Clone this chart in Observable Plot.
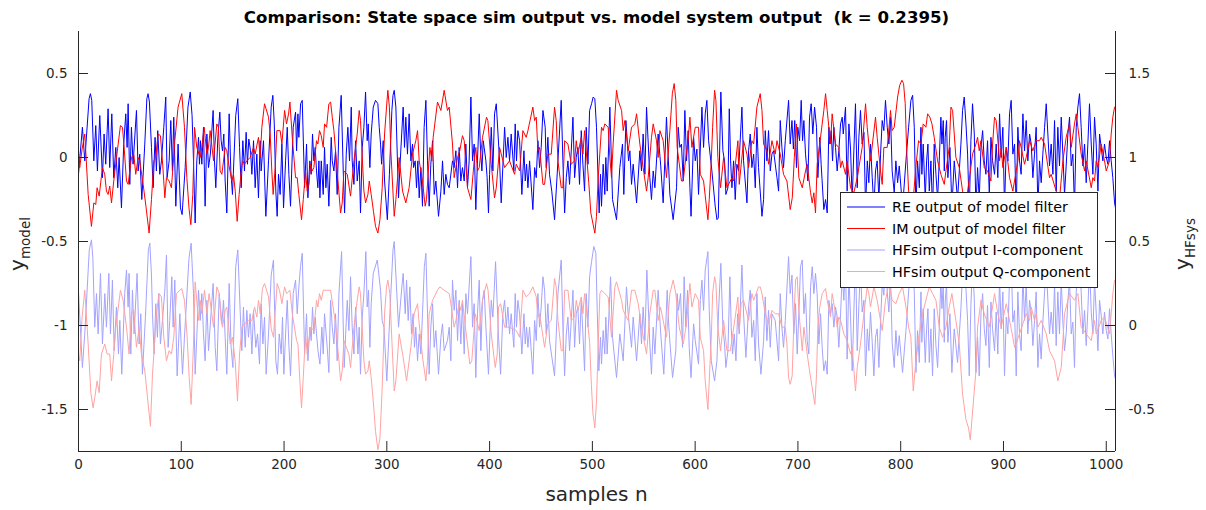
<!DOCTYPE html>
<html>
<head>
<meta charset="utf-8">
<script src="https://cdn.jsdelivr.net/npm/d3@7"></script>
<script src="https://cdn.jsdelivr.net/npm/@observablehq/plot@0.6"></script>
<style>
  html, body { margin: 0; padding: 0; background: #fff; }
  #chart { position: relative; width: 1206px; height: 510px; }
</style>
</head>
<body>
<div id="chart"></div>
<script>
// ---------- data (sample index n, value) ----------
const titleText = "Comparison: State space sim output vs. model system output  (k = 0.2395)";
const xLabel = "samples n";
const seriesNames = ["RE output of model filter", "IM output of model filter", "HFsim output I-component", "HFsim output Q-component"];
const xTicks = [0, 100, 200, 300, 400, 500, 600, 700, 800, 900, 1000];
const leftTicks = [-1.5, -1, -0.5, 0, 0.5];
const rightTicks = [-0.5, 0, 0.5, 1, 1.5];
const xDomain = [0, 1009];
const leftDomain = [-1.75, 0.75];
const rightOffset = 1; // right axis value = left axis value + 1

// RE output of model filter (left axis)
const reOutput = [[0,-0.1],[3.8,0.18],[6.1,-0.02],[10.3,0.35],[11.6,0.38],[12.9,0.34],[14.9,-0.02],[16.8,0.19],[18.4,-0.08],[20.7,0.25],[23.3,-0.12],[24.9,0.14],[26.5,-0.04],[28.8,0.29],[30.4,-0.06],[32.4,0.26],[34.3,-0.12],[36.3,0.06],[38.2,-0.18],[39.5,0],[41.8,-0.3],[44,0.08],[46,0.26],[47.3,0.06],[48.3,0.32],[49.9,-0.16],[51.5,0.18],[53.1,-0.04],[56.4,0.28],[58,-0.08],[59.6,0.02],[61.6,-0.25],[64.5,0.08],[66.5,0.35],[67.7,0.38],[69,0.33],[71,0.06],[72.6,-0.18],[74.5,0.12],[75.8,-0.08],[77.1,0.16],[79.1,-0.1],[80.7,-0.02],[83,0.18],[84.9,0.36],[86.2,-0.12],[88.2,-0.02],[89.8,0.22],[91.4,-0.08],[92.7,0.24],[94.7,-0.29],[96.9,0.08],[99.2,-0.3],[100.8,-0.34],[103.8,-0.06],[106.5,0.3],[108.7,0.39],[110.5,0.25],[111.9,-0.02],[113.5,-0.39],[115.1,-0.02],[116.8,0.12],[117.7,-0.04],[118.7,0.1],[120,-0.04],[121.6,0.18],[123.2,-0.29],[124.9,0.14],[126.5,-0.06],[128.3,0.02],[131,0.28],[132.3,-0.02],[133.6,-0.18],[135.6,0.12],[137.5,0.27],[138.8,0.1],[140.1,0.04],[141.4,0.14],[142.7,-0.14],[144.3,-0.33],[146.6,0.26],[148.2,-0.08],[149.8,-0.22],[153,0.25],[155,0.35],[156.7,0.06],[158.3,-0.18],[159.9,0.1],[161.5,-0.08],[163.1,0.15],[164.4,-0.04],[165.7,0.11],[167.4,0.04],[168.7,-0.1],[170.3,0.1],[171.9,-0.18],[173.5,0.02],[175.1,-0.24],[176.8,0.1],[177.7,-0.08],[180,0.1],[182.3,-0.35],[184.9,-0.02],[187.5,0.3],[189.1,0.37],[190.5,0.2],[192,-0.2],[193.3,-0.35],[194.6,-0.1],[196.2,-0.22],[197.9,0.08],[199.5,-0.3],[201.5,-0.02],[203.1,0.18],[204.7,-0.1],[206.3,-0.29],[208.9,0.18],[211.2,0.27],[212.2,0.04],[213.5,0.26],[214.4,0.12],[216.1,0.32],[217.7,0.34],[220,-0.18],[221.9,0.08],[223.2,-0.24],[225.1,-0.02],[226.4,-0.1],[227.7,0.14],[229,-0.02],[230.3,0.06],[231.6,-0.08],[232.9,-0.18],[233.9,-0.02],[234.9,-0.24],[236.2,-0.02],[238.1,-0.22],[239.4,0.06],[240.7,-0.18],[242,-0.04],[243.6,-0.29],[245.9,0.12],[246.9,-0.02],[248.5,-0.08],[250.1,0.04],[251.7,-0.22],[253.4,0.18],[255.6,0.37],[257.6,-0.08],[258.9,-0.33],[260.5,0.02],[262.1,0.18],[263.7,-0.02],[265.4,0.3],[266.3,-0.02],[268,-0.16],[269.6,0.1],[271.2,-0.14],[273.1,-0.02],[274.4,-0.33],[276.1,0.06],[277.7,0.18],[279.3,0.39],[280.9,0.1],[281.9,0.2],[283.5,-0.06],[284.8,0.14],[286.8,0.3],[289,0.34],[291.3,0.32],[292.6,0.18],[293.9,0.08],[294.9,-0.04],[296.5,0.1],[297.8,-0.14],[300.5,-0.37],[302.5,-0.1],[304.9,0.28],[306,0.37],[307.2,0.4],[308.8,0.3],[311.4,-0.24],[312.7,-0.06],[315.9,0.3],[317.2,0.06],[318.5,0.24],[320.1,0.02],[321.7,0.26],[323.4,-0.02],[325,0.08],[326,-0.06],[327.6,-0.02],[328.9,-0.18],[330.2,-0.02],[331.5,-0.24],[333.1,-0.06],[334.7,-0.29],[336.3,0.18],[338,0.34],[339.6,-0.02],[341.2,-0.29],[342.8,-0.04],[344.5,0.1],[346.1,-0.22],[347.7,-0.14],[350.3,-0.35],[352.6,-0.2],[354.2,-0.02],[355.8,-0.22],[357.4,-0.1],[359,-0.16],[360.7,-0.18],[363.9,-0.02],[365.5,-0.06],[367.2,0.04],[368.8,-0.18],[370.4,0.06],[372,-0.14],[373.6,-0.06],[375.3,-0.14],[376.9,0.08],[378.5,-0.18],[380.1,-0.02],[381.8,0.36],[383.4,-0.02],[385,0.08],[386.6,-0.31],[388.2,-0.02],[389.9,0.26],[391.2,0.04],[392.5,-0.08],[393.8,0.1],[396.4,-0.02],[397.6,-0.12],[398.9,-0.33],[400,-0.1],[401.6,0.18],[403.2,-0.08],[404.8,0.26],[406.5,0.32],[409.7,-0.02],[411.3,-0.27],[414.6,0.18],[416.2,0],[417.8,0.12],[419.4,-0.02],[421,0.14],[423.6,-0.08],[424.9,0.2],[426.2,-0.02],[427.5,0.16],[429.2,0.1],[431.4,-0.22],[433.4,0.04],[434.7,-0.14],[436,-0.04],[437.3,-0.18],[438.9,-0.02],[442.1,-0.31],[443.8,-0.06],[445.4,-0.12],[447,0.1],[448.6,-0.06],[450.2,0.06],[451.9,0.28],[454.1,0.18],[455.1,-0.06],[456.7,0.12],[458.3,-0.1],[460.5,-0.2],[463.2,-0.37],[466.5,-0.02],[469.7,0.34],[471.3,-0.02],[473,-0.33],[474.6,-0.12],[476.2,-0.02],[477.8,-0.16],[481.1,0.24],[482.7,-0.12],[484.3,0],[485.9,0.06],[487.5,-0.16],[489.2,0.16],[490.8,-0.04],[492.4,-0.2],[494,0.18],[495.7,-0.04],[497.3,0.28],[499.2,0.32],[500.8,0.36],[502.4,0.35],[504,0.18],[506.6,-0.33],[507.9,-0.1],[508.9,-0.29],[510.5,-0.04],[512.1,-0.22],[513.1,0],[514.4,-0.2],[517,0.3],[519.6,-0.25],[523.5,-0.37],[526.7,-0.06],[529.3,0.08],[530.6,-0.22],[532.6,0.22],[535.2,-0.02],[536.5,0.04],[538.1,-0.16],[539.7,-0.04],[543,-0.27],[546.2,0.04],[547.8,-0.08],[549.4,0.14],[551.1,-0.1],[552.7,0.3],[555.9,-0.12],[557.5,-0.25],[559.2,-0.08],[560.8,-0.18],[564,0.14],[566.5,-0.05],[568.9,-0.27],[572.1,0.24],[575.4,-0.22],[578.6,-0.37],[581.9,-0.18],[583.5,0.18],[585.1,0.06],[586.7,0.08],[588.4,-0.14],[590,0.28],[591.6,-0.02],[593.2,0.16],[594.9,-0.18],[596,-0.35],[598.5,0.12],[600.1,-0.02],[601.7,0.05],[603.3,-0.22],[606.6,0.3],[608.2,0.06],[609.8,0.26],[611.4,0.34],[613.1,0.1],[616.3,-0.08],[619.5,-0.29],[621.2,-0.37],[622.5,-0.36],[625,0.39],[627,0.04],[628.6,-0.02],[629.9,-0.22],[631.9,-0.18],[633.2,0.29],[634.5,-0.02],[635.8,-0.18],[637.4,-0.02],[639,-0.25],[640.6,-0.04],[642.3,-0.08],[645.5,0.3],[647.1,-0.02],[650.4,-0.27],[652,0.04],[653.6,0.14],[655.2,-0.06],[656.9,0.02],[658.5,-0.18],[660.1,0.18],[661.7,-0.06],[665,-0.35],[666.6,-0.25],[668.2,0.16],[669.8,-0.02],[671.4,0.16],[673.1,-0.08],[674.7,0.02],[676.3,0.04],[679.6,-0.12],[681.2,-0.2],[682.8,0.22],[684.4,0.06],[686,-0.06],[687.7,0.1],[690.9,0.34],[692.5,0.08],[694.2,0.22],[695.6,0.05],[696.9,0.22],[698.6,-0.06],[699.9,0.18],[701.6,0.1],[703.2,0.34],[704.5,0.1],[705.8,0.22],[707.4,0.02],[709.7,-0.14],[711.3,0.24],[712.9,0.32],[714.5,0.14],[716.2,0.3],[718.1,0.18],[719.4,-0.12],[721.3,0.12],[722.6,-0.04],[725.2,-0.31],[726.9,-0.25],[728.5,-0.33],[730.1,0.18],[731.1,0.08],[732.4,0.16],[733.7,-0.02],[735,0.18],[736.6,0.06],[738.2,-0.08],[739.8,0.04],[741.5,0.2],[743.1,0.24],[744.1,0.14],[746.3,0.3],[747.9,-0.2],[749.6,0.2],[751.2,0.05],[752.8,-0.25],[756,0.32],[757.7,-0.18],[759.3,0.12],[760.9,0.28],[762.5,0.08],[764.2,0.15],[765.8,-0.3],[767.5,-0.02],[769,-0.15],[770.6,0.08],[772.3,-0.12],[773.9,-0.3],[775.5,-0.08],[777.1,-0.02],[778.8,-0.25],[780.4,0.02],[782,0.22],[783.6,0.16],[785.2,0.34],[786.9,0.18],[788.5,0.08],[790.1,0.24],[791.7,-0.08],[793.7,-0.21],[795.3,-0.02],[797,-0.15],[798.6,-0.05],[801.8,-0.3],[805.1,-0.02],[807.7,0.18],[809.9,0.34],[811.6,0.37],[813.2,0.18],[814.8,-0.3],[816.4,-0.02],[818.1,-0.18],[819.7,0.18],[820.6,-0.1],[821.9,0.08],[823.9,-0.25],[825.2,-0.02],[826.5,0.08],[827.8,-0.2],[829.4,-0.02],[831,-0.32],[832.6,0.08],[834.3,-0.1],[835.9,-0.25],[837.5,-0.02],[839.1,0.24],[840.1,0.08],[841.4,0.22],[842.4,-0.08],[843.3,0.12],[844.6,0.22],[845.9,-0.12],[847.9,0.06],[849.8,-0.3],[852.1,-0.02],[855.3,-0.25],[858.6,0.08],[860.2,0.28],[861.8,0.36],[863.5,0.2],[865.1,0.02],[866.7,-0.33],[868.3,0.1],[869.9,0.32],[871.6,0.14],[873.2,-0.3],[874.8,-0.06],[876.4,-0.25],[878.1,0.06],[879.7,0.16],[881.3,-0.02],[882.9,-0.1],[884.5,0.1],[886.2,-0.22],[887.8,0.12],[889.4,-0.02],[891.3,-0.1],[892.9,0.08],[894.5,-0.12],[896.2,0.26],[897.8,0],[899.4,0.18],[901,-0.3],[902.7,0.06],[904.3,-0.02],[905.9,0.26],[907.5,0.34],[909.1,0.02],[910.8,0.08],[912.4,-0.32],[914,0.18],[915.6,-0.02],[917.2,-0.1],[918.9,0.26],[920.5,0.04],[922.1,0.22],[923.7,-0.02],[925.4,0.14],[927,0.08],[928.6,-0.12],[930.2,0.02],[931.8,0.18],[933.5,-0.3],[935.1,-0.02],[936.7,-0.15],[938.3,0.02],[940,0.18],[941.6,0.32],[943.2,0.14],[944.8,-0.05],[946.4,0.08],[948.1,-0.1],[949.7,0.22],[951.3,-0.2],[952.9,0.18],[954.5,-0.05],[956.2,0.24],[957.8,0.02],[959.4,-0.22],[961,-0.05],[962.7,0.14],[964.3,0.24],[965.9,-0.05],[967.5,0.02],[969.1,-0.3],[970.8,0.18],[972.4,0.3],[974,0.38],[975.6,0.18],[977.3,-0.05],[978.9,0.08],[980.5,-0.15],[982.1,0.08],[983.7,0.32],[985.4,0.08],[987,-0.1],[988.6,0.24],[990.2,0.08],[991.9,-0.2],[993.5,0.14],[995.1,0.06],[996.7,-0.02],[998.3,0.08],[1000,0],[1001.6,-0.04],[1003.2,0.1],[1004.8,-0.02],[1006.4,-0.12],[1008.1,-0.27],[1009,-0.3]];

// IM output of model filter (left axis)
const imOutput = [[0,0.04],[1.2,-0.06],[3.5,0.05],[6.1,0.14],[9.4,-0.22],[12.6,-0.41],[14.9,-0.27],[16.8,-0.28],[18.1,-0.18],[20.1,-0.23],[23.3,-0.06],[25.5,-0.1],[27.2,-0.2],[28.8,-0.22],[30.4,-0.17],[32.1,-0.27],[34.3,-0.14],[37,0],[40.8,0.19],[42.8,0.18],[44.5,0.05],[46.7,-0.14],[48.3,-0.16],[51.5,0],[53.8,0.02],[55.7,-0.1],[58,0],[59.6,-0.02],[62.9,-0.16],[65.8,-0.3],[68.7,-0.45],[71,-0.25],[73.3,-0.02],[75.2,0],[77.5,0.14],[79.7,0.13],[82,-0.05],[84,-0.24],[85.6,-0.12],[88.2,-0.14],[90.4,-0.18],[92,-0.05],[93.7,0.1],[96.9,0.3],[100.5,0.38],[103.1,0.18],[105.4,-0.12],[107.5,-0.3],[109.3,-0.4],[111.2,-0.22],[112.9,0.18],[115.1,0.06],[118.4,0],[120,0.06],[122.3,0.18],[124.9,0.02],[126.5,0.06],[128.1,0.16],[131.4,-0.02],[134.6,0.2],[136.2,0.18],[137.8,-0.08],[139.5,-0.1],[142.7,0.06],[144.3,0.04],[146.5,-0.05],[149.2,-0.14],[150.8,-0.1],[152.5,-0.2],[154.4,-0.38],[156.3,-0.22],[158,-0.1],[159.6,-0.02],[161.5,-0.04],[163.8,-0.02],[167,0],[170.3,0.06],[171.9,0.02],[175.1,0.12],[176.8,0],[178.4,0.18],[181,0.32],[184.9,0.24],[186.5,0.14],[188.1,-0.08],[189.4,-0.22],[191.4,-0.06],[193,0.16],[196.2,0.16],[197.9,0.08],[200.5,0.28],[202.4,0.2],[204.4,0.26],[205.7,0.33],[208,0.12],[211.2,-0.12],[212.8,-0.12],[214.4,-0.22],[217,-0.37],[218.7,-0.25],[220.9,-0.08],[222.5,-0.2],[224.2,-0.16],[225.8,-0.04],[227.4,-0.08],[229,-0.06],[231.6,0.1],[232.9,0.08],[234.5,0.16],[236.2,0.13],[238.1,0.06],[239.4,0.2],[241.4,0.18],[243.6,0.32],[245.3,0.33],[246.9,0.24],[248.5,0.16],[251.7,-0.08],[255,-0.33],[256.6,-0.27],[258.2,-0.08],[261.5,-0.1],[264.7,-0.23],[268,-0.02],[271.2,0.14],[273.1,0.28],[274.4,0.22],[277.7,-0.2],[279.3,-0.27],[281.6,-0.22],[282.9,-0.14],[284.8,-0.22],[287,-0.32],[289,-0.41],[291.3,-0.45],[293.3,-0.37],[295.5,-0.18],[297.8,0.14],[299.7,0.3],[301,0.4],[302.5,0.3],[303.9,0.04],[307.2,-0.35],[308.8,-0.25],[312,0],[315.3,-0.2],[318.5,-0.27],[321.7,-0.18],[325,0.02],[328.2,0.1],[329.9,0.16],[331.5,-0.02],[334.7,-0.14],[337.3,-0.29],[338.6,-0.25],[341.9,0.06],[343.8,-0.02],[345.1,0.12],[349.3,0.33],[352.6,0.28],[355.8,0.4],[359,0.28],[360.7,0.3],[363.9,0.08],[365.5,-0.12],[368.8,0],[371,0.04],[373.6,0.13],[375.3,0.1],[378.5,-0.18],[381.8,-0.25],[385,-0.02],[386.6,0.06],[388.2,-0.08],[389.9,-0.06],[393.1,0.12],[397,0.24],[398.3,0.22],[401.6,-0.04],[404.8,-0.24],[406.5,-0.18],[409.7,0.06],[414.6,-0.06],[419.4,-0.02],[424.3,-0.1],[425.9,-0.04],[429.2,-0.08],[432.4,0.16],[435.6,0.12],[437.3,0.16],[442.1,0.3],[443.8,0.22],[445.4,0.24],[447,0.04],[448.6,0.06],[451.9,-0.16],[453.5,-0.16],[456.7,0.02],[460,0.02],[463.2,0.3],[464.8,0.22],[466.5,-0.02],[469.7,-0.18],[471.3,-0.18],[473,0.1],[476.2,0.08],[479.4,-0.04],[482.7,-0.02],[484.3,0.1],[485.9,0.02],[489.2,0.12],[490.8,0.02],[492.4,0.16],[494,0.04],[496.5,-0.15],[498.5,-0.33],[502.4,-0.45],[504,-0.35],[505.7,-0.12],[508.9,0.18],[510.5,0.16],[512.1,0.2],[515.4,0.18],[517,0],[518.6,-0.12],[520.2,0.08],[523.5,0.4],[525.1,0.34],[528.4,0.28],[530,0.16],[531.6,0.22],[534.8,0.04],[538.1,0.18],[541.3,0.2],[543,0.26],[546.2,0.08],[549.4,-0.06],[552.7,-0.2],[554.3,-0.12],[557.5,0.12],[559.2,0.2],[562.4,0.1],[564,0],[565.7,0.16],[568.9,0.1],[572.1,-0.12],[575.4,0.16],[577.8,0.38],[579.6,0.44],[581.2,0.34],[582.5,0.06],[586.7,-0.14],[588.4,-0.14],[591.6,0.04],[593.2,0.1],[594.9,0.24],[596.8,0.06],[600.1,0.18],[603.3,0.18],[605,-0.1],[608.2,-0.14],[612.4,-0.37],[613.7,-0.25],[615.7,-0.02],[617,0.18],[618.9,0.4],[620.2,0.34],[622.1,0],[624.7,-0.18],[627.7,0],[630.9,-0.18],[635.8,-0.12],[637.4,-0.14],[641.6,0.1],[642.9,-0.16],[647.1,0.1],[650.4,0.02],[652,-0.06],[655.2,0.1],[656.9,0.08],[660.1,0.3],[663.3,0.38],[665,0.28],[666.6,0.08],[669.8,0.04],[671.4,-0.04],[674.7,0.1],[677.9,0.02],[679.6,0.1],[682.8,0.02],[686,-0.1],[689.3,-0.14],[692.5,-0.31],[694.5,-0.24],[696.5,0],[698.5,0.2],[700.9,-0.12],[704.2,-0.18],[707.4,-0.08],[709,-0.04],[712.3,-0.21],[713.9,-0.27],[715.5,-0.21],[717.1,-0.33],[718.7,-0.04],[722,0.12],[725.2,0.28],[726.9,0.38],[728.5,0.28],[731.7,0.08],[733.3,0.26],[736.6,0.08],[739.8,0.06],[741.5,-0.06],[743.1,-0.02],[746.3,-0.1],[747.9,-0.02],[751.2,-0.18],[754.4,-0.21],[757.7,-0.12],[762.5,0.06],[765.8,0.32],[767.4,0.18],[770.6,-0.02],[775.5,0.24],[777.1,0.12],[780.4,-0.08],[782,-0.16],[783.6,0.06],[786.9,0.06],[790.1,0.28],[791.7,0.16],[793.7,0.18],[797,0.36],[799,0.43],[801.2,0.46],[802.8,0.44],[804.4,0.32],[805.7,0.06],[807.7,-0.2],[809.9,-0.32],[812.2,-0.25],[814.8,-0.05],[817.4,0.1],[819.7,0.08],[821.9,0.2],[824.5,0.18],[826.2,0.26],[828.4,0.24],[830.4,0.2],[832.6,0.12],[835.9,-0.02],[839.1,-0.1],[842.4,-0.16],[844,-0.08],[847.2,0.06],[848.9,0.3],[850.5,0.28],[853.7,0],[857,-0.06],[860.2,-0.2],[862.8,-0.3],[865.1,-0.2],[867.4,-0.1],[869.9,0.02],[873.2,0.08],[874.8,0.12],[876.4,0.04],[878.1,0.1],[881.3,-0.06],[884.5,-0.08],[887.8,-0.14],[889.4,0.08],[891.3,0.24],[892.9,0.22],[896.2,-0.02],[897.8,0.06],[899.4,-0.06],[902.7,0.06],[905.9,-0.12],[909.1,-0.2],[914,-0.02],[915.6,0.1],[917.2,0.06],[920.5,-0.04],[922.1,0],[925.4,0.1],[928.6,0.04],[931.8,0.1],[935.1,0.1],[936.7,0.12],[940,0.08],[944.8,-0.12],[946.4,-0.1],[951.3,-0.2],[954.5,-0.25],[957.8,-0.02],[961,0.12],[964.3,0.2],[965.9,0.06],[969.1,0.2],[970.8,0.26],[972.4,0.18],[975.6,0.02],[978.9,-0.08],[980.5,-0.02],[985.4,-0.18],[987,-0.12],[988.6,-0.14],[990.2,-0.02],[991.9,-0.06],[995.1,0.08],[998.3,-0.02],[1000,-0.08],[1003.2,-0.02],[1004.8,0.14],[1006.4,0.24],[1008.1,0.3],[1009,0.3]];

// HFsim output I-component (right axis)
const hfI = [[0,0.2],[3.8,-0.25],[6.1,-0.05],[10.5,0.45],[12.6,0.51],[14,0.4],[15.8,-0.01],[17.5,0.19],[19.1,-0.05],[21.4,0.31],[23.3,-0.11],[25.6,0.19],[27.2,-0.01],[29.5,0.31],[31.1,-0.05],[33,0.27],[34.7,-0.15],[36.9,0.11],[38.9,-0.17],[40.2,0.03],[42.1,-0.29],[45,0.19],[46.7,0.33],[48.3,0.11],[49.2,0.31],[50.9,-0.17],[52.5,0.21],[54.1,-0.05],[57,0.31],[59,-0.11],[60.6,0.07],[62.2,-0.29],[65.1,0.05],[68,0.45],[69.4,0.49],[71,0.3],[72,0.07],[73.6,-0.17],[75.2,0.13],[76.8,-0.07],[78.1,0.19],[79.7,-0.11],[81.7,0.03],[84,0.21],[85.6,0.42],[87.2,-0.13],[88.8,0.03],[90.8,0.29],[92.1,-0.01],[93.7,0.27],[96,-0.3],[98.6,0.07],[101.2,-0.29],[103.1,-0.07],[107.5,0.4],[109.6,0.49],[111.9,0.19],[113.5,-0.29],[115.1,-0.07],[116.8,0.21],[118.4,0.03],[120,0.19],[121.6,-0.05],[123.2,-0.21],[124.9,0.15],[126.5,-0.15],[131,0.25],[133,-0.13],[134.6,-0.27],[136.9,0.19],[139.5,0.01],[141.1,0.15],[142.7,-0.07],[144.3,-0.29],[146.6,0.25],[148.5,-0.13],[150.2,-0.25],[153,0.35],[155,0.45],[157.3,0.09],[158.9,-0.15],[160.5,0.11],[162.2,-0.13],[163.8,0.09],[165.4,-0.07],[167,0.07],[168.7,-0.17],[170.3,0.09],[172.5,-0.13],[174.2,-0.05],[176.1,-0.23],[177.7,0.13],[179.4,-0.11],[181,0.05],[182.6,-0.29],[184.9,-0.05],[187.5,0.3],[189.7,0.39],[192,-0.21],[193.6,-0.29],[195.3,-0.05],[197.2,-0.17],[198.5,0.05],[199.8,-0.29],[201.5,-0.05],[203.1,0.15],[204.7,-0.12],[206.3,-0.3],[208.9,0.19],[211.2,0.27],[212.8,0.07],[214.4,0.23],[216,0.35],[217.7,0.43],[220,-0.17],[221.9,0.07],[223.2,-0.21],[225.1,-0.01],[226.4,-0.09],[227.7,0.11],[229,-0.05],[230.3,0.05],[231.6,-0.05],[233,-0.15],[234.9,-0.23],[236.8,-0.01],[238.1,-0.17],[239.4,0.07],[242,-0.13],[243.6,-0.28],[245.3,0.15],[246.9,-0.01],[248.5,-0.11],[250.1,0.07],[251.7,-0.21],[253.4,0.19],[256,0.44],[258.5,-0.25],[260.5,0.02],[261.5,0.15],[263.1,-0.03],[264.7,0.29],[266.3,-0.01],[268,-0.17],[269.6,0.11],[271.9,-0.17],[273.1,-0.01],[274.4,-0.29],[276.1,0.05],[277.7,0.19],[279.6,0.44],[280.9,0.11],[282.2,0.21],[283.5,-0.13],[284.8,0.13],[286.8,0.31],[290.7,0.39],[293.9,0.21],[295.5,0.03],[297.2,-0.01],[300,-0.33],[303.9,0.19],[306,0.45],[307.2,0.5],[309.4,0.23],[311.4,-0.01],[314.6,0.23],[315.9,0.31],[317.9,0.07],[319.2,0.27],[320.8,0.03],[322.4,0.23],[324,-0.05],[325.6,0.07],[326.9,-0.13],[328.2,-0.01],[329.9,-0.21],[331.5,-0.05],[333.1,-0.17],[334.7,0.07],[336.5,0.35],[338,0.43],[339.6,0.07],[341.2,-0.29],[342.8,-0.01],[344.5,0.13],[346.1,-0.13],[347.7,-0.03],[350.3,-0.29],[352.6,-0.07],[354.2,0.01],[355.8,-0.15],[359,-0.09],[360.7,-0.01],[362.3,-0.21],[363.9,0.27],[365.5,0.09],[367.2,0.21],[368.8,-0.09],[370.4,0.15],[372,-0.11],[373.6,0.13],[375.3,-0.17],[376.9,0.19],[378.5,0.07],[381.8,0.41],[383.4,-0.01],[385,0.13],[386.6,-0.31],[388.2,0.07],[389.9,0.27],[391.5,-0.15],[393.1,0.15],[394.7,0.21],[396.4,-0.01],[398.9,-0.29],[401.6,0.15],[403.2,0.05],[405.8,0.38],[408.7,-0.07],[410.7,-0.29],[412.9,0.07],[414.6,0.15],[416.2,-0.01],[417.8,0.11],[419.4,-0.05],[421,0.07],[423.6,-0.13],[424.9,0.19],[426.2,-0.01],[427.5,0.15],[429.2,0.07],[431.4,-0.17],[433.4,0.07],[434.7,-0.11],[436,-0.01],[437.3,-0.13],[438.9,-0.01],[442.1,-0.29],[443.8,0.03],[445.4,-0.09],[447,0.19],[448.6,-0.01],[450.2,0.11],[451.9,0.29],[453.5,0.21],[455.1,-0.05],[456.7,0.13],[458.3,-0.09],[463.2,-0.3],[466.5,0.19],[469.7,0.39],[471.3,-0.01],[473,-0.3],[474.6,-0.05],[476.2,0.05],[477.8,-0.15],[481.1,0.21],[482.7,-0.13],[484.3,0.07],[485.9,0.11],[487.5,-0.11],[489.2,0.15],[490.8,-0.05],[492.4,-0.27],[494,0.19],[495.7,-0.01],[497.3,0.29],[499.2,0.38],[501.4,0.47],[503.4,0.43],[504.7,0.09],[506.3,-0.27],[507.9,-0.07],[508.9,-0.23],[510.5,-0.03],[512.1,-0.17],[513.1,0.05],[514.4,-0.17],[517.7,0.29],[519.6,-0.07],[523.5,-0.31],[526.7,-0.05],[530,-0.21],[533.2,0.23],[534.8,0.07],[538.1,-0.13],[539.7,0.05],[543,-0.21],[546.2,0.07],[547.8,-0.11],[549.4,0.11],[551.1,-0.09],[553,0.33],[555.9,-0.11],[557.5,-0.29],[559.2,-0.01],[560.8,-0.17],[564,0.21],[566.5,-0.05],[569.5,-0.29],[572.8,0.21],[574.4,-0.01],[578,-0.31],[581.2,-0.15],[582.5,0.19],[583.8,0.09],[585.8,0.19],[587.7,-0.13],[589.3,0.29],[590.9,-0.01],[592.6,0.21],[594.2,-0.13],[596,-0.31],[598.5,0.01],[600.1,-0.09],[603.3,-0.23],[605,0.15],[606.6,0.27],[608.2,0.09],[609.8,0.33],[612.4,0.44],[613.7,0.09],[615.7,-0.21],[618.9,-0.33],[621.2,-0.21],[622.8,0.09],[625,0.37],[627,-0.01],[628.6,-0.11],[629.9,-0.25],[631.9,-0.15],[633.8,0.29],[635.1,-0.01],[636.4,-0.17],[638,-0.05],[639.7,-0.21],[641.3,0.07],[642.9,-0.05],[645.5,0.36],[647.1,0.07],[649.4,-0.19],[652,0.11],[653.6,0.21],[655.2,-0.07],[656.9,0.03],[658.5,-0.21],[660.1,0.19],[661.7,-0.11],[664,-0.29],[666.6,-0.09],[668.2,0.17],[669.8,-0.09],[671.4,0.09],[673.1,-0.13],[674.7,0.07],[677.9,0.03],[681.2,-0.21],[682.8,0.19],[684.4,-0.01],[686,-0.13],[687.7,0.03],[690.9,0.41],[692.5,0.19],[694.2,0.3],[696,-0.05],[697.7,0.13],[699.3,-0.17],[700.9,0.07],[702.5,0.35],[704.2,0.39],[705.8,0.07],[707.4,0.19],[709,-0.09],[710.6,-0.17],[712.3,0.23],[713.9,0.35],[715.5,0.19],[717.1,0.31],[718.7,0.19],[720.4,-0.11],[722,0.07],[723.6,-0.13],[725.2,-0.27],[726.9,-0.21],[728.5,-0.29],[730.1,0.15],[731.7,0.07],[733.3,0.13],[735,-0.01],[736.6,0.11],[738.2,0.05],[739.8,-0.13],[741.5,0.07],[743.1,0.3],[744.7,0.15],[746.3,0.38],[747.9,-0.2],[749.6,0.3],[751.2,0.05],[752.8,-0.27],[756,0.42],[757.7,-0.15],[759.3,0.12],[760.9,0.35],[762.5,0.08],[764.2,0.15],[765.8,-0.3],[767.5,-0.02],[769,-0.15],[770.6,0.08],[772.3,-0.1],[773.9,-0.3],[775.5,-0.07],[777.1,-0.02],[778.8,-0.25],[780.4,0.02],[782,0.25],[783.6,0.18],[785.2,0.4],[786.9,0.2],[788.5,0.08],[790.1,0.3],[791.7,-0.1],[793.7,-0.25],[795.3,-0.03],[797,-0.18],[798.6,-0.06],[801.8,-0.28],[805.1,-0.03],[807.7,0.2],[809.9,0.38],[811.6,0.45],[813.2,0.2],[814.8,-0.28],[816.4,-0.03],[818.1,-0.22],[819.7,0.2],[820.6,-0.1],[821.9,0.1],[823.9,-0.22],[825.2,-0.02],[826.5,0.1],[827.8,-0.22],[829.4,-0.02],[831,-0.3],[832.6,0.1],[834.3,-0.12],[835.9,-0.25],[837.5,-0.02],[839.1,0.28],[840.1,0.1],[841.4,0.25],[842.4,-0.1],[843.3,0.14],[844.6,0.25],[845.9,-0.1],[847.9,0.07],[849.8,-0.28],[852.1,-0.02],[855.3,-0.22],[858.6,0.1],[860.2,0.32],[861.8,0.42],[863.5,0.22],[865.1,0.03],[866.7,-0.3],[868.3,0.12],[869.9,0.37],[871.6,0.16],[873.2,-0.28],[874.8,-0.07],[876.4,-0.3],[878.1,0.07],[879.7,0.19],[881.3,-0.02],[882.9,-0.12],[884.5,0.12],[886.2,-0.25],[887.8,0.14],[889.4,-0.02],[891.3,-0.15],[892.9,0.08],[894.5,-0.17],[896.2,0.28],[897.8,-0.02],[899.4,0.2],[901,-0.3],[902.7,0.05],[904.3,-0.05],[905.9,0.28],[907.5,0.4],[909.1,0.02],[910.8,0.09],[912.4,-0.3],[914,0.2],[915.6,-0.05],[917.2,-0.15],[918.9,0.3],[920.5,0.03],[922.1,0.25],[923.7,-0.05],[925.4,0.15],[927,0.08],[928.6,-0.12],[930.2,0.02],[931.8,0.2],[933.5,-0.25],[935.1,-0.05],[936.7,-0.2],[938.3,0.02],[940,0.2],[941.6,0.36],[943.2,0.15],[944.8,-0.05],[946.4,0.08],[948.1,-0.05],[949.7,0.24],[951.3,-0.12],[952.9,0.2],[954.5,-0.05],[956.2,0.27],[957.8,0.02],[959.4,-0.15],[961,-0.05],[962.7,0.15],[964.3,0.27],[965.9,-0.05],[967.5,0.02],[969.1,-0.25],[970.8,0.2],[972.4,0.35],[974,0.45],[975.6,0.2],[977.3,-0.05],[978.9,0.09],[980.5,-0.12],[982.1,0.09],[983.7,0.37],[985.4,0.08],[987,-0.05],[988.6,0.27],[990.2,0.08],[991.9,-0.15],[993.5,0.15],[995.1,0.06],[996.7,-0.05],[998.3,0.08],[1000,-0.03],[1001.6,-0.08],[1003.2,0.1],[1004.8,-0.05],[1006.4,-0.18],[1008.1,-0.3],[1009,-0.32]];

// HFsim output Q-component (right axis)
const hfQ = [[0,-0.17],[1.2,-0.21],[3.5,0.05],[6.1,0.21],[9.4,-0.11],[12,-0.4],[14.2,-0.49],[15.8,-0.43],[18.1,-0.33],[20.1,-0.4],[22.3,-0.17],[25.6,-0.11],[27.8,-0.17],[30.4,-0.17],[32.1,-0.33],[34.3,-0.17],[36.3,-0.01],[40.8,0.21],[43.4,0.15],[46.7,-0.01],[49.2,-0.17],[51.5,0.07],[53.8,0.09],[56.4,-0.13],[59,-0.01],[61.2,-0.17],[64.5,-0.27],[67.5,-0.45],[70,-0.6],[72,-0.29],[74.2,-0.09],[75.8,0.07],[78.4,0.19],[80.7,0.17],[83,-0.07],[85.6,-0.21],[88.2,-0.15],[90.4,-0.17],[92.7,-0.07],[95.3,0.19],[98.6,0.21],[100.5,0.22],[103.1,0.15],[105.5,-0.05],[107.7,-0.31],[109.6,-0.47],[111.9,-0.11],[113.5,0.26],[116.8,0.03],[118.4,0.15],[120,0.07],[122.6,0.21],[124.9,0.07],[127.1,0.19],[129.7,0.07],[131.4,-0.01],[134.6,0.23],[136.9,0.19],[138.8,0.03],[140.1,-0.01],[142.7,0.09],[144.3,0.11],[147.6,-0.11],[149.8,-0.07],[152.4,-0.21],[154.7,-0.45],[156.7,-0.17],[159,-0.01],[161.5,0.01],[165.4,0.03],[168.7,0.03],[171.3,0.11],[173.5,0.05],[175.1,0.15],[176.8,0.07],[179,0.22],[181,0.25],[184.9,0.17],[187.5,-0.02],[189.7,-0.07],[193.3,0.25],[195.6,0.21],[197.9,0.13],[200.5,0.23],[202.4,0.19],[205.7,0.21],[208,0.07],[212.2,-0.09],[213.5,-0.11],[215.4,-0.33],[217,-0.49],[218.7,-0.31],[220.9,-0.05],[222.5,-0.17],[225.8,-0.01],[229,-0.03],[231.6,0.15],[232.9,0.11],[234.5,0.19],[236.2,0.15],[238.1,0.21],[241.4,0.21],[245.3,0.21],[250.1,0.01],[253.4,-0.21],[255,-0.33],[256.6,-0.27],[258.2,-0.09],[263.1,-0.17],[264.7,-0.25],[268,-0.01],[271.2,0.15],[273.1,0.23],[274.4,0.19],[277.7,-0.21],[279.3,-0.29],[281.6,-0.27],[282.9,-0.21],[284.8,-0.31],[286.8,-0.45],[289,-0.63],[291.3,-0.74],[293.3,-0.67],[295.5,-0.37],[297.8,0.07],[299.7,0.23],[301,0.27],[302.9,0.19],[305,-0.1],[307.2,-0.39],[308.8,-0.33],[312,-0.05],[315.9,-0.19],[319.2,-0.33],[323.4,-0.13],[326.6,0.07],[329.9,0.13],[331.5,0.01],[335,-0.2],[338,-0.33],[339.6,-0.21],[341.2,0.07],[344.5,0.15],[349.3,0.21],[351.6,0.23],[355.8,0.21],[360.7,0.19],[362.3,0.13],[365.5,-0.01],[367.2,0.03],[370.4,0.13],[372,0.09],[373.6,0.15],[376.9,-0.03],[380.8,-0.23],[382.7,-0.21],[386,0.07],[389.9,-0.03],[393.1,0.15],[397,0.25],[398.5,0.21],[401.6,-0.05],[405.5,-0.25],[407.4,-0.17],[408.7,0.11],[410.7,0.13],[414.6,-0.01],[419.4,-0.01],[425.9,-0.03],[429.2,-0.07],[432.4,0.21],[435.6,0.17],[438.9,0.19],[442.1,0.23],[445.4,0.17],[447,0.05],[448.6,0.07],[453.5,-0.13],[456.7,0.01],[460,0.03],[463.2,0.28],[464.8,0.23],[466.5,0.03],[469.7,-0.15],[471.3,-0.15],[473,0.21],[476.2,0.21],[479.4,0.03],[482.7,0.05],[484.3,0.15],[485.9,0.09],[489.2,0.17],[490.8,0.07],[492.4,0.19],[494,0.11],[497.3,-0.1],[499,-0.35],[500.5,-0.52],[502.4,-0.61],[504,-0.45],[505.7,-0.11],[507.3,0.19],[508.9,0.21],[512.1,0.19],[515.4,0.17],[518.6,-0.07],[521.9,0.23],[523.5,0.26],[528.4,0.15],[530,0.09],[534.8,0.03],[538.1,0.21],[541.3,0.21],[544.6,0.13],[547.8,-0.01],[552.7,-0.17],[555.9,0.07],[559.2,0.21],[560.8,0.21],[564,0.03],[566.3,0.11],[572.1,-0.07],[575.4,0.19],[578.6,0.27],[581.2,0.19],[584.5,-0.01],[588.4,-0.11],[591.6,0.01],[594.9,0.25],[596.8,0.11],[600.1,0.19],[603.3,0.15],[605,-0.07],[608.2,-0.15],[609.8,-0.33],[612.4,-0.5],[613.7,-0.33],[615.7,-0.07],[617,0.19],[618.9,0.29],[620.2,0.25],[622.1,-0.01],[624.7,-0.15],[627.7,0.03],[630.9,-0.15],[634.2,-0.15],[639,0.05],[641.6,0.17],[642.9,-0.03],[644.8,0.13],[647.1,0.15],[652,0.03],[655.2,0.19],[656.9,0.15],[661.7,0.23],[663.3,0.23],[665,0.19],[668.2,0.07],[671.4,0.01],[674.7,0.09],[677.9,0.07],[681.2,0.07],[684.4,-0.01],[687.7,-0.01],[689.3,-0.11],[690.9,-0.31],[692.5,-0.35],[694.4,-0.3],[696.2,0.05],[697.7,0.27],[699.3,0.29],[700.9,0.09],[704.2,-0.15],[705.8,-0.01],[709,-0.17],[712.3,-0.31],[716.5,-0.47],[718.1,-0.29],[719.4,-0.01],[721.3,0.11],[723.6,0.19],[726.9,0.22],[728.5,0.15],[731.7,0.05],[733.3,0.19],[736.6,0.07],[738.2,-0.01],[739.8,0.05],[741.5,0.03],[744.7,-0.05],[747.9,-0.09],[751.2,-0.17],[752.8,-0.13],[756,-0.39],[757.7,-0.25],[760.9,-0.11],[764.2,0.07],[767.4,0.23],[769,0.19],[770.6,0.11],[773.9,0.23],[777.1,0.15],[782,-0.03],[785.2,0.15],[788.5,0.25],[791.7,0.15],[795.3,0.13],[798.6,0.19],[801.8,0.23],[805.1,0.11],[807.7,-0.01],[809.9,-0.07],[812.2,-0.39],[814.8,-0.21],[818.1,-0.05],[821.3,0.07],[824.5,0.15],[827.8,0.23],[831,0.19],[834.3,0.15],[837.5,-0.01],[840.8,-0.07],[844,-0.01],[847.2,0.11],[849.8,0.19],[853.7,0.03],[857,-0.11],[860.2,-0.41],[863.5,-0.56],[866,-0.61],[867.7,-0.68],[869.3,-0.56],[873.2,-0.27],[874.8,-0.01],[878.1,0.15],[881.3,0.07],[886.2,-0.01],[889.4,0.11],[891.3,0.19],[894.5,0.07],[897.8,-0.01],[902.7,0.13],[909.1,-0.07],[910.8,-0.13],[915.6,-0.05],[922.1,0.07],[925.4,0.03],[927,0.11],[930.2,0.03],[931.8,0.07],[933.5,-0.01],[936.7,0.03],[941.6,-0.05],[944.8,-0.15],[949.7,-0.21],[952.9,-0.33],[956.2,-0.25],[959.4,0.07],[964.3,0.19],[969.1,0.15],[972.4,0.19],[975.6,-0.01],[985.4,-0.09],[988.6,0.03],[990.2,-0.05],[995.1,0.03],[998.3,0.05],[1003.2,-0.05],[1006.4,0.19],[1008.1,0.27],[1009,0.27]];

// ---------- styling ----------
const W = 1206, H = 510;
const mL = 78, mR = 91, mT = 31, mB = 59;
const colors = ["#0000ff", "#ff0000", "#a3a3ff", "#ffa3a3"];
const axisColor = "#262626";
const font = "'DejaVu Sans', Verdana, sans-serif";
const pxPerX = (W - mL - mR) / (xDomain[1] - xDomain[0]);
const pxPerY = (H - mT - mB) / (leftDomain[1] - leftDomain[0]);
const tickLen = 10;
const fmt = d => String(Math.round(d * 100) / 100);

const chart = Plot.plot({
  width: W, height: H,
  marginLeft: mL, marginRight: mR, marginTop: mT, marginBottom: mB,
  x: {domain: xDomain},
  y: {domain: leftDomain},
  style: {fontFamily: font, fontSize: "13.5px", color: axisColor, background: "#fff"},
  marks: [
    Plot.line(hfI, {x: d => d[0], y: d => d[1] - rightOffset, stroke: colors[2], strokeWidth: 1, clip: true}),
    Plot.line(hfQ, {x: d => d[0], y: d => d[1] - rightOffset, stroke: colors[3], strokeWidth: 1, clip: true}),
    Plot.line(reOutput, {x: d => d[0], y: d => d[1], stroke: colors[0], strokeWidth: 1, clip: true}),
    Plot.line(imOutput, {x: d => d[0], y: d => d[1], stroke: colors[1], strokeWidth: 1, clip: true}),
    // axis lines
    Plot.ruleY([leftDomain[0]], {stroke: axisColor, strokeWidth: 1}),
    Plot.ruleX(xDomain, {stroke: axisColor, strokeWidth: 1}),
    // inward ticks
    Plot.ruleX(xTicks, {x: d => d, y1: leftDomain[0], y2: leftDomain[0] + tickLen / pxPerY, stroke: axisColor}),
    Plot.ruleY(leftTicks, {y: d => d, x1: xDomain[0], x2: xDomain[0] + tickLen / pxPerX, stroke: axisColor}),
    Plot.ruleY(rightTicks, {y: d => d - rightOffset, x1: xDomain[1] - tickLen / pxPerX, x2: xDomain[1], stroke: axisColor}),
    // tick labels
    Plot.axisX(xTicks, {tickSize: 0, tickPadding: 8, tickFormat: fmt, label: null}),
    Plot.axisY(leftTicks, {anchor: "left", tickSize: 0, tickPadding: 11, tickFormat: fmt, label: null}),
    Plot.axisY(rightTicks.map(t => t - rightOffset), {anchor: "right", tickSize: 0, tickPadding: 13, tickFormat: d => fmt(d + rightOffset), label: null})
  ]
});
document.getElementById("chart").appendChild(chart);

// ---------- title, axis labels, legend ----------
const svg = d3.select(chart);
const plotCX = mL + (W - mL - mR) / 2;
const plotCY = mT + (H - mT - mB) / 2;

svg.append("text")
  .attr("x", plotCX).attr("y", 23)
  .attr("text-anchor", "middle")
  .attr("font-family", font).attr("font-weight", "bold").attr("font-size", 16.6)
  .attr("fill", "#000")
  .text(titleText);

svg.append("text")
  .attr("x", plotCX).attr("y", 501)
  .attr("text-anchor", "middle")
  .attr("font-family", font).attr("font-size", 20)
  .attr("fill", axisColor)
  .text(xLabel);

function yLabel(x, main, sub) {
  const t = svg.append("text")
    .attr("transform", `translate(${x},${plotCY + 3}) rotate(-90)`)
    .attr("text-anchor", "middle")
    .attr("font-family", font).attr("font-size", 20)
    .attr("fill", axisColor);
  t.append("tspan").text(main);
  t.append("tspan").attr("font-size", 13.5).attr("dy", 6).text(sub);
}
yLabel(24, "y", "model");
yLabel(1189, "y", "HFsys");

// legend box
const lg = {x: 840, y: 192, w: 257, h: 95};
const lgG = svg.append("g");
lgG.append("rect")
  .attr("x", lg.x + 0.5).attr("y", lg.y + 0.5).attr("width", lg.w).attr("height", lg.h)
  .attr("fill", "#fff").attr("stroke", axisColor).attr("stroke-width", 1);
seriesNames.forEach((name, i) => {
  const cy = lg.y + 15 + i * 21.5;
  lgG.append("line")
    .attr("x1", lg.x + 7).attr("x2", lg.x + 45).attr("y1", cy).attr("y2", cy)
    .attr("stroke", colors[i]).attr("stroke-width", 1);
  lgG.append("text")
    .attr("x", lg.x + 52).attr("y", cy).attr("dy", "0.36em")
    .attr("text-anchor", "start")
    .attr("font-family", font).attr("font-size", 14.3)
    .attr("fill", "#000")
    .text(name);
});
</script>
</body>
</html>
